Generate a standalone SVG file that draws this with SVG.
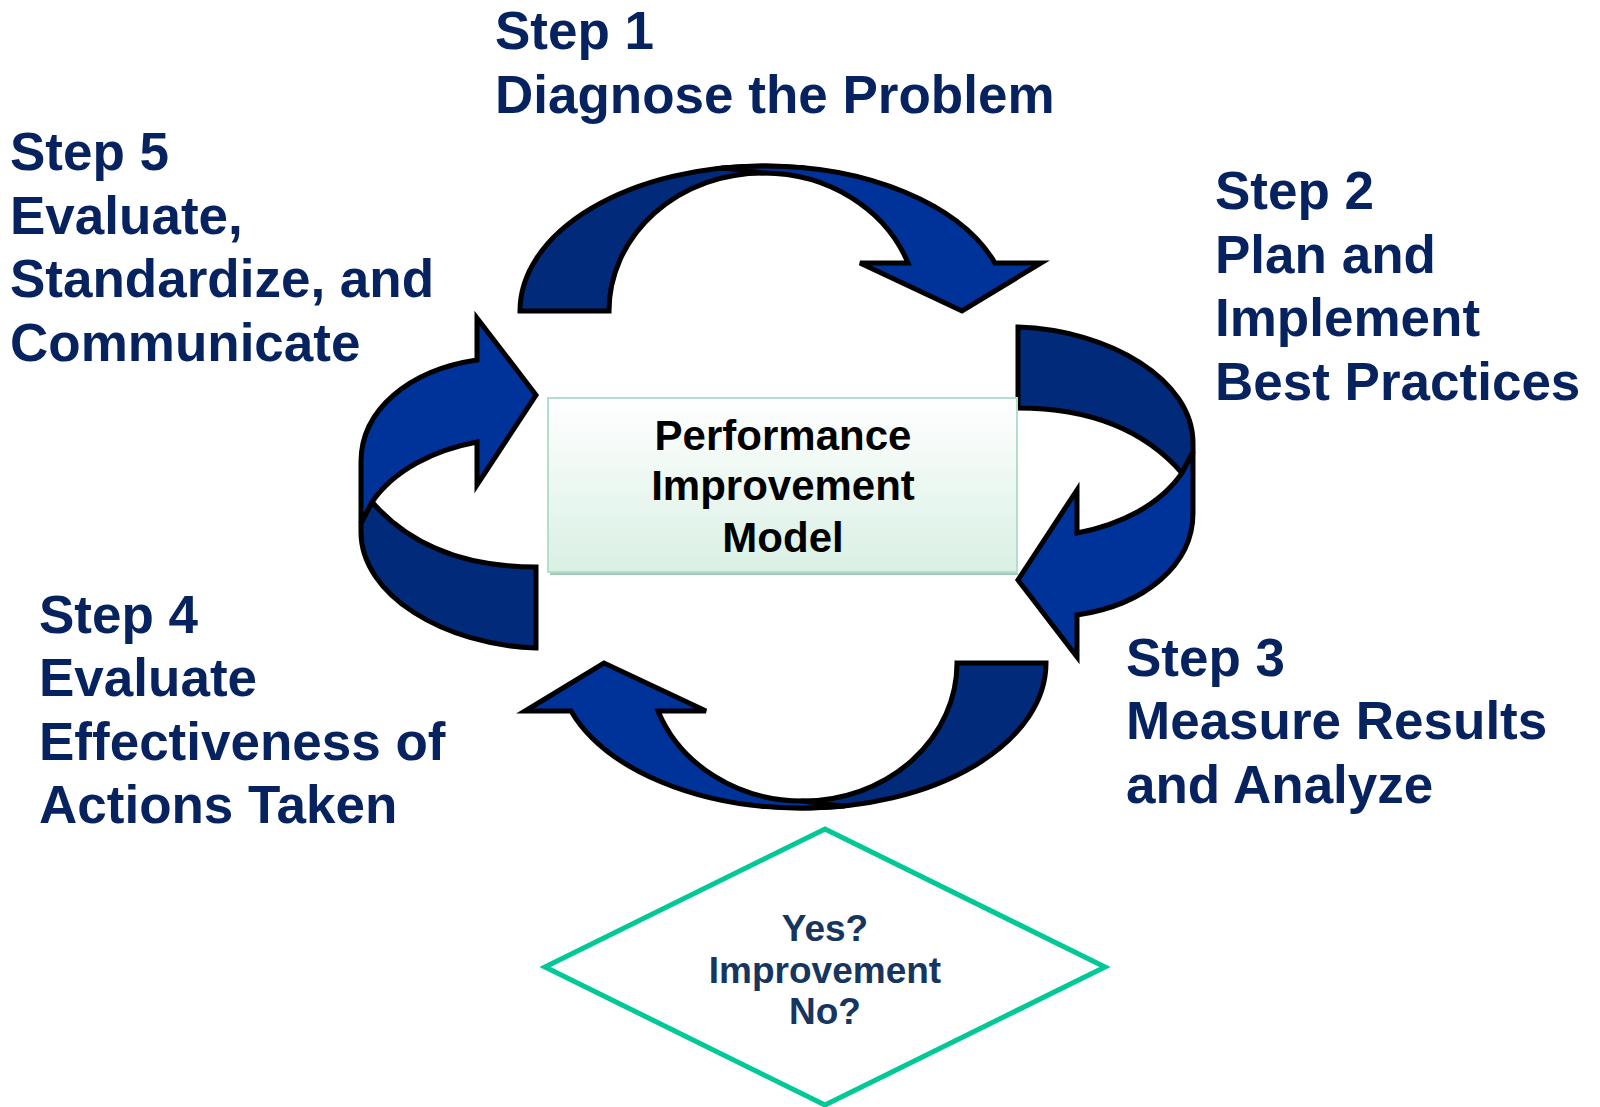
<svg xmlns="http://www.w3.org/2000/svg" width="1600" height="1107" viewBox="0 0 1600 1107">
<style>
.step{font-family:"Liberation Sans",Arial,sans-serif;font-weight:bold;font-size:53px;fill:#06225f}
.center{font-family:"Liberation Sans",Arial,sans-serif;font-weight:bold;font-size:42px;fill:#000;text-anchor:middle}
.dia{font-family:"Liberation Sans",Arial,sans-serif;font-weight:bold;font-size:37px;fill:#17365f;text-anchor:middle}
.dark{fill:#022a7a;stroke:#000;stroke-width:5;stroke-linejoin:miter}
.blue{fill:#003399;stroke:#000;stroke-width:5;stroke-linejoin:miter}
</style>
<defs>
<linearGradient id="boxg" x1="0" y1="0" x2="0" y2="1">
<stop offset="0" stop-color="#ffffff"/>
<stop offset="1" stop-color="#d9f0e4"/>
</linearGradient>
<g id="arcTop">
<path class="dark" d="M520,311 A243,145 0 0 1 763,166 C778,166 792,167 805,168 C790,169 776,171 763,173 A154,138 0 0 0 609,311 Z"/>
<path class="blue" d="M721,168 C734,167 748,166 763,166 A243,145 0 0 1 995,263 L1041,263 L962,311 L860,263 L908,263 A154,138 0 0 0 763,173 C750,171 736,169 721,168 Z"/>
</g>
<g id="arcRight">
<path class="dark" d="M1018,327 C1110,330 1193,380 1193,443 L1193,452 L1182,473 C1140,425 1080,408 1018,408 Z"/>
<path class="blue" d="M1193,452 L1193,513 C1193,565 1145,605 1077,615 L1077,657 L1018,580 L1077,490 L1077,533 C1120,525 1160,505 1182,473 Z"/>
</g>
</defs>
<rect width="1600" height="1107" fill="#fff"/>
<g id="connectors">
<use href="#arcTop"/>
<use href="#arcRight"/>
<use href="#arcTop" transform="rotate(180 783 487)"/>
<use href="#arcRight" transform="rotate(180 777 487.5)"/>
</g>
<g id="center-box">
<rect x="550" y="402" width="468" height="173" fill="#a3cbb6"/>
<rect x="548" y="398" width="469" height="174" fill="url(#boxg)" stroke="#b3dfca" stroke-width="2"/>
<text class="center" x="783" y="450">Performance</text>
<text class="center" x="783" y="500">Improvement</text>
<text class="center" x="783" y="552">Model</text>
</g>
<g id="step1">
<text class="step" x="495" y="49">Step 1</text>
<text class="step" x="495" y="112.5">Diagnose the Problem</text>
</g>
<g id="step2">
<text class="step" x="1215" y="209">Step 2</text>
<text class="step" x="1215" y="272.5">Plan and</text>
<text class="step" x="1215" y="336">Implement</text>
<text class="step" x="1215" y="399.5">Best Practices</text>
</g>
<g id="step3">
<text class="step" x="1126" y="675.5">Step 3</text>
<text class="step" x="1126" y="739">Measure Results</text>
<text class="step" x="1126" y="802.5">and Analyze</text>
</g>
<g id="step4">
<text class="step" x="39" y="632.5">Step 4</text>
<text class="step" x="39" y="696">Evaluate</text>
<text class="step" x="39" y="759.5">Effectiveness of</text>
<text class="step" x="39" y="823">Actions Taken</text>
</g>
<g id="step5">
<text class="step" x="10" y="170">Step 5</text>
<text class="step" x="10" y="233.5">Evaluate,</text>
<text class="step" x="10" y="297">Standardize, and</text>
<text class="step" x="10" y="360.5">Communicate</text>
</g>
<g id="decision">
<polygon points="825,829 1105,967 825,1105 545,967" fill="#fff" stroke="#00c896" stroke-width="5"/>
<text class="dia" x="825" y="941">Yes?</text>
<text class="dia" x="825" y="983">Improvement</text>
<text class="dia" x="825" y="1024">No?</text>
</g>
</svg>
